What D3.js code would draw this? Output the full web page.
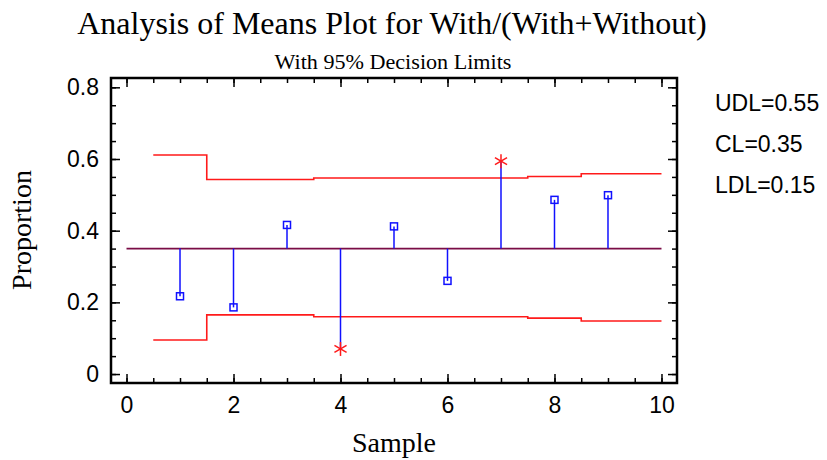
<!DOCTYPE html>
<html>
<head>
<meta charset="utf-8">
<script src="https://cdn.jsdelivr.net/npm/d3@7"></script>
<style>
	body { margin: 0; background: #fff; }
	svg { display: block; }
</style>
</head>
<body>
<div id="chart"></div>
<script>
(function () {
	'use strict';

	// data
	var samples = [1, 2, 3, 4, 5, 6, 7, 8, 9],
			proportions = [0.217, 0.186, 0.416, 0.070, 0.412, 0.260, 0.594, 0.486, 0.499],
			upperLimits = [0.611, 0.543, 0.543, 0.547, 0.547, 0.547, 0.547, 0.551, 0.559],
			lowerLimits = [0.095, 0.165, 0.165, 0.160, 0.160, 0.160, 0.160, 0.156, 0.148],
			centerLine = 0.35,
			xTicks = [0, 2, 4, 6, 8, 10],
			yTicks = [0, 0.2, 0.4, 0.6, 0.8],
			legendLines = ['UDL=0.55', 'CL=0.35', 'LDL=0.15'];

	var width = 827,
			height = 460,
			box = { left: 111, right: 677, top: 78, bottom: 383 };

	var svg = d3.select('#chart')
		.append('svg')
		.attr('width', width)
		.attr('height', height);

	var x = d3.scaleLinear().domain([-0.29, 10.29]).range([box.left, box.right]),
			y = d3.scaleLinear().domain([-0.025, 0.826]).range([box.bottom, box.top]);

	var serif = '"Liberation Serif", "Times New Roman", serif',
			sans = '"Liberation Sans", Arial, sans-serif';

	// titles
	svg.append('text')
		.attr('x', 392).attr('y', 34)
		.attr('text-anchor', 'middle')
		.style('font-family', serif).style('font-size', '32px')
		.text('Analysis of Means Plot for With/(With+Without)');

	svg.append('text')
		.attr('x', 393).attr('y', 69)
		.attr('text-anchor', 'middle')
		.attr('textLength', 237)
		.attr('lengthAdjust', 'spacingAndGlyphs')
		.style('font-family', serif).style('font-size', '21px')
		.text('With 95% Decision Limits');

	svg.append('text')
		.attr('x', 394).attr('y', 452)
		.attr('text-anchor', 'middle')
		.style('font-family', serif).style('font-size', '28px')
		.text('Sample');

	svg.append('text')
		.attr('transform', 'translate(31,230) rotate(-90)')
		.attr('text-anchor', 'middle')
		.style('font-family', serif).style('font-size', '28px')
		.text('Proportion');

	// axes: ticks pointing into the plot on all four sides
	var minorX = d3.range(0, 10.01, 0.5),
			minorY = d3.range(0, 0.801, 0.05);

	function drawAxis(axisFn, scale, pos, values, size, labels) {
		var g = svg.append('g')
			.attr('transform', pos)
			.call(axisFn(scale).tickValues(values).tickSizeInner(-size).tickSizeOuter(0)
				.tickFormat(labels ? d3.format('~g') : ''));
		g.select('.domain').remove();
		g.selectAll('.tick line').attr('stroke', '#000').attr('stroke-width', 1.5);
		g.selectAll('.tick text')
			.style('font-family', sans).style('font-size', '23px').attr('fill', '#000');
		return g;
	}

	drawAxis(d3.axisBottom, x, 'translate(0,' + box.bottom + ')', minorX, 5, false);
	drawAxis(d3.axisBottom, x, 'translate(0,' + box.bottom + ')', xTicks, 9, true)
		.selectAll('.tick text').attr('y', 30).attr('dy', 0);
	drawAxis(d3.axisTop, x, 'translate(0,' + box.top + ')', minorX, 5, false);
	drawAxis(d3.axisTop, x, 'translate(0,' + box.top + ')', xTicks, 9, false);
	drawAxis(d3.axisLeft, y, 'translate(' + box.left + ',0)', minorY, 5, false);
	drawAxis(d3.axisLeft, y, 'translate(' + box.left + ',0)', yTicks, 9, true)
		.selectAll('.tick text').attr('x', -12);
	drawAxis(d3.axisRight, y, 'translate(' + box.right + ',0)', minorY, 5, false);
	drawAxis(d3.axisRight, y, 'translate(' + box.right + ',0)', yTicks, 9, false);

	svg.append('rect')
		.attr('x', box.left).attr('y', box.top)
		.attr('width', box.right - box.left).attr('height', box.bottom - box.top)
		.attr('fill', 'none').attr('stroke', '#000').attr('stroke-width', 2.5);

	// decision limits as steps, one step per sample
	function stepPoints(vals) {
		var pts = [];
		vals.forEach(function (v, i) {
			var x0 = samples[i] - 0.5,
					x1 = i === vals.length - 1 ? 10 : samples[i] + 0.5;
			pts.push([x0, v], [x1, v]);
		});
		return pts;
	}

	var line = d3.line()
		.x(function (d) { return x(d[0]); })
		.y(function (d) { return y(d[1]); });

	[upperLimits, lowerLimits].forEach(function (vals) {
		svg.append('path')
			.attr('d', line(stepPoints(vals)))
			.attr('fill', 'none')
			.attr('stroke', '#ff1a1a')
			.attr('stroke-width', 1.6);
	});

	svg.append('path')
		.attr('d', line([[0, centerLine], [10, centerLine]]))
		.attr('fill', 'none')
		.attr('stroke', '#7a0c46')
		.attr('stroke-width', 1.6);

	// stems from the center line
	svg.selectAll('.stem')
		.data(proportions)
		.enter().append('line')
		.attr('class', 'stem')
		.attr('x1', function (d, i) { return x(samples[i]); })
		.attr('x2', function (d, i) { return x(samples[i]); })
		.attr('y1', y(centerLine))
		.attr('y2', function (d) { return y(d); })
		.attr('stroke', '#1010ff')
		.attr('stroke-width', 1.5);

	var outside = function (d, i) { return d > upperLimits[i] || d < lowerLimits[i]; };

	proportions.forEach(function (d, i) {
		var cx = x(samples[i]), cy = y(d);
		if (outside(d, i)) {
			var r = 7;
			[0, 60, 120].forEach(function (a) {
				var rad = a * Math.PI / 180;
				svg.append('line')
					.attr('x1', cx - r * Math.sin(rad)).attr('y1', cy - r * Math.cos(rad))
					.attr('x2', cx + r * Math.sin(rad)).attr('y2', cy + r * Math.cos(rad))
					.attr('stroke', '#ff1a1a').attr('stroke-width', 1.5);
			});
		} else {
			svg.append('rect')
				.attr('x', cx - 3.5).attr('y', cy - 3.5)
				.attr('width', 7).attr('height', 7)
				.attr('fill', 'none')
				.attr('stroke', '#1010ff').attr('stroke-width', 1.5);
		}
	});

	// legend
	svg.selectAll('.legend')
		.data(legendLines)
		.enter().append('text')
		.attr('class', 'legend')
		.attr('x', 715)
		.attr('y', function (d, i) { return 111 + i * 41; })
		.style('font-family', sans).style('font-size', '23px')
		.text(function (d) { return d; });
})();
</script>
</body>
</html>
